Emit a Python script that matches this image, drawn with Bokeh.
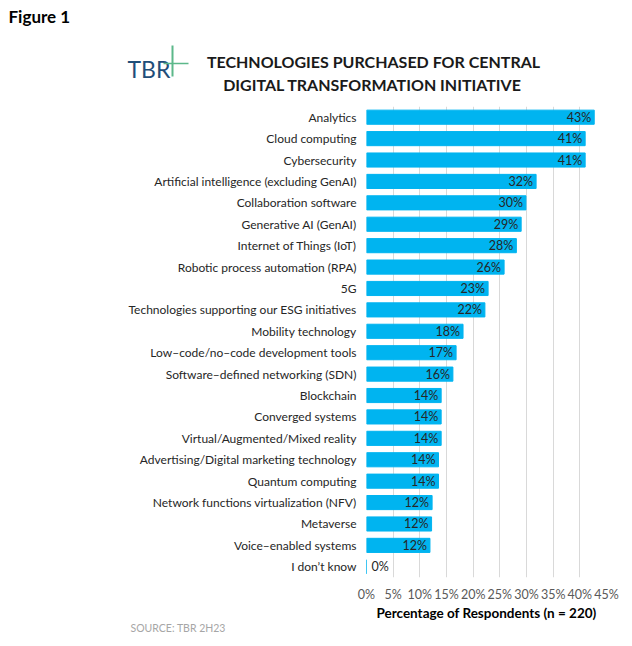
from bokeh.plotting import figure
from bokeh.models import ColumnDataSource, FactorRange, FixedTicker, Title, Range1d
from bokeh.layouts import column
from bokeh.core.properties import value
from bokeh.embed import file_html
from bokeh.resources import INLINE

categories = [
    "Analytics",
    "Cloud computing",
    "Cybersecurity",
    "Artificial intelligence (excluding GenAI)",
    "Collaboration software",
    "Generative AI (GenAI)",
    "Internet of Things (IoT)",
    "Robotic process automation (RPA)",
    "5G",
    "Technologies supporting our ESG initiatives",
    "Mobility technology",
    "Low\u2013code/no\u2013code development tools",
    "Software\u2013defined networking (SDN)",
    "Blockchain",
    "Converged systems",
    "Virtual/Augmented/Mixed reality",
    "Advertising/Digital marketing technology",
    "Quantum computing",
    "Network functions virtualization (NFV)",
    "Metaverse",
    "Voice\u2013enabled systems",
    "I don\u2019t know",
]
values = [42.7, 41.0, 41.0, 31.8, 29.9, 29.0, 28.1, 25.8, 22.8, 22.2, 18.1, 16.8,
          16.2, 14.0, 14.0, 14.0, 13.5, 13.5, 12.3, 12.2, 11.9, 0.0]
value_labels = ["43%", "41%", "41%", "32%", "30%", "29%", "28%", "26%", "23%", "22%", "18%", "17%",
                "16%", "14%", "14%", "14%", "14%", "14%", "12%", "12%", "12%", "0%"]
tick_values = [0, 5, 10, 15, 20, 25, 30, 35, 40, 45]
tick_labels = ["0%", "5%", "10%", "15%", "20%", "25%", "30%", "35%", "40%", "45%"]

title_lines = ["TECHNOLOGIES PURCHASED FOR CENTRAL", "DIGITAL TRANSFORMATION INITIATIVE"]
figure_label = "Figure 1"
logo_text = "TBR"
source_text = "SOURCE: TBR 2H23"
x_label = "Percentage of Respondents (n = 220)"

FONT = "Lato"
BAR = "#00B4F0"
W = 632

# ---------------- header ----------------
h = figure(width=W, height=100, x_range=Range1d(0, W), y_range=Range1d(100, 0),
           output_backend="svg", toolbar_location=None,
           min_border=0, min_border_left=0, min_border_right=0,
           min_border_top=0, min_border_bottom=0)
h.frame_align = False
h.axis.visible = False
h.grid.visible = False
h.outline_line_color = None
h.text(x=[8], y=[16], text=[figure_label], text_font=value(FONT), text_font_style="bold",
       text_font_size="17px", text_baseline="middle", text_color="#000000")
h.text(x=[373, 372], y=[61, 84], text=title_lines, text_font=value(FONT),
       text_font_style="bold", text_font_size="16px", text_align="center",
       text_baseline="middle", text_color="#1a1a1a")
h.text(x=[127], y=[68], text=[logo_text], text_font=value(FONT), text_font_size="23px",
       text_baseline="middle", text_color="#1f4e79")
h.segment(x0=[172, 163], y0=[45, 63], x1=[172, 188], y1=[76, 63],
          line_color="#5cb88a", line_width=[2, 1.5])

# ---------------- main chart ----------------
p = figure(width=W, height=546,
           y_range=FactorRange(factors=categories[::-1]),
           x_range=(0, 45),
           output_backend="svg", toolbar_location=None,
           min_border_left=366, min_border_right=26,
           min_border_top=6, min_border_bottom=69)
p.frame_align = False

src = ColumnDataSource(dict(cat=categories, val=values, lab=value_labels))
p.hbar(y="cat", right="val", left=0, height=0.66, source=src,
       fill_color=BAR, line_color=BAR, line_width=1)

inside = ColumnDataSource(dict(
    cat=[c for c, v in zip(categories, values) if v > 0],
    val=[v for v in values if v > 0],
    lab=[l for l, v in zip(value_labels, values) if v > 0]))
outside = ColumnDataSource(dict(
    cat=[c for c, v in zip(categories, values) if v <= 0],
    val=[v for v in values if v <= 0],
    lab=[l for l, v in zip(value_labels, values) if v <= 0]))

p.text(x="val", y="cat", text="lab", source=inside, text_align="right",
       text_baseline="middle", x_offset=-3, text_font=value(FONT),
       text_font_size="12.5px", text_color="#262626")
p.text(x="val", y="cat", text="lab", source=outside, text_align="left",
       text_baseline="middle", x_offset=5, text_font=value(FONT),
       text_font_size="12.5px", text_color="#262626")

p.xaxis.ticker = FixedTicker(ticks=tick_values)
p.xaxis.major_label_overrides = {t: l for t, l in zip(tick_values, tick_labels)}
p.xaxis.axis_label = x_label
p.xaxis.axis_label_text_font = FONT
p.xaxis.axis_label_text_font_style = "bold"
p.xaxis.axis_label_text_font_size = "13.5px"
p.xaxis.axis_label_text_color = "#000000"
p.xaxis.axis_label_standoff = 0
p.xaxis.major_label_text_font = FONT
p.xaxis.major_label_text_font_size = "12.5px"
p.xaxis.major_label_text_color = "#595959"
p.xaxis.major_label_standoff = 3

for ax in (p.xaxis, p.yaxis):
    ax.axis_line_color = None
    ax.major_tick_line_color = None
    ax.minor_tick_line_color = None

p.yaxis.major_label_text_font = FONT
p.yaxis.major_label_text_font_size = "12px"
p.yaxis.major_label_text_color = "#262626"
p.yaxis.major_label_standoff = 4

p.xgrid.grid_line_color = "#d9d9d9"
p.ygrid.grid_line_color = None
p.outline_line_color = None

p.add_layout(Title(text=source_text, align="left", offset=-236, text_font=FONT,
                   text_font_size="10.5px", text_font_style="normal",
                   text_color="#a6a6a6", standoff=-8), "below")

layout = column(h, p, spacing=0)
open("out.html", "w").write(file_html(layout, INLINE))
